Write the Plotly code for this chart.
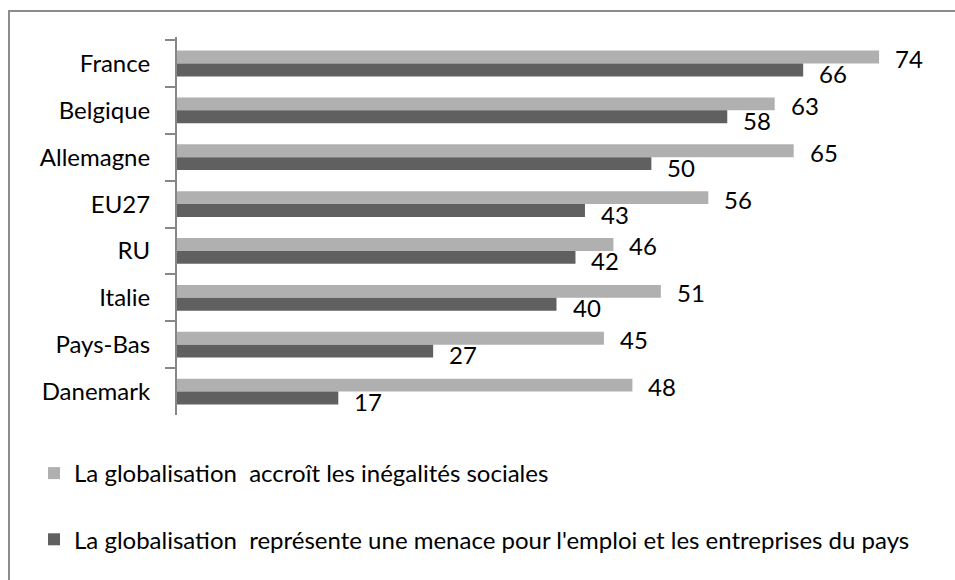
import plotly.graph_objects as go

categories = ["France", "Belgique", "Allemagne", "EU27", "RU", "Italie", "Pays-Bas", "Danemark"]
inegalites = [74, 63, 65, 56, 46, 51, 45, 48]
menace = [66, 58, 50, 43, 42, 40, 27, 17]
series_names = [
    "La globalisation  accroît les inégalités sociales",
    "La globalisation  représente une menace pour l'emploi et les entreprises du pays",
]
colors = ["#b0b0b0", "#606060"]

FONT = "Lato"
FS = 24

W, H = 955, 580
L, R, T, B = 177, 19, 37, 165

fig = go.Figure()
for name, vals, col, grp in zip(series_names, [inegalites, menace], colors, ["g1", "g2"]):
    fig.add_trace(go.Bar(
        y=categories, x=vals, orientation="h", name=name,
        marker=dict(color=col, line=dict(width=0)),
        legendgroup=grp, hoverinfo="x+y",
    ))

annotations = []
for vals, ysh in [(inegalites, 5), (menace, -10)]:
    for c, v in zip(categories, vals):
        annotations.append(dict(
            x=v, y=c, xref="x", yref="y", text=str(v), showarrow=False,
            xanchor="left", yanchor="middle", xshift=14, yshift=ysh,
            font=dict(family=FONT, size=FS, color="#000000"),
        ))

pw = W - L - R
ph = H - T - B
def px_to_paper_x(px):
    return (px - L) / pw
def px_to_paper_y(py):
    return (H - B - py) / ph

fig.update_layout(
    width=W, height=H,
    margin=dict(l=L, r=R, t=T, b=B, autoexpand=False),
    paper_bgcolor="white", plot_bgcolor="white",
    barmode="group", bargap=0.45, bargroupgap=0,
    font=dict(family=FONT, size=FS, color="#000000"),
    xaxis=dict(range=[0, 80], visible=False, showgrid=False, zeroline=False),
    yaxis=dict(
        autorange="reversed", showgrid=False, zeroline=False,
        showline=True, linecolor="#878787", linewidth=2,
        ticks="outside", tickson="boundaries", ticklen=10, tickwidth=2, tickcolor="#878787",
        ticklabelstandoff=20,
        tickfont=dict(family=FONT, size=FS, color="#000000"),
    ),
    showlegend=True,
    legend=dict(
        x=px_to_paper_x(34), y=px_to_paper_y(451), xanchor="left", yanchor="top",
        orientation="v", traceorder="grouped", tracegroupgap=32,
        font=dict(family=FONT, size=FS, color="#000000"),
        bgcolor="rgba(0,0,0,0)",
    ),
    annotations=annotations,
    shapes=[dict(
        type="rect", xref="paper", yref="paper",
        x0=px_to_paper_x(9), x1=px_to_paper_x(990),
        y0=px_to_paper_y(620), y1=px_to_paper_y(11),
        line=dict(color="#8c8c8c", width=2), fillcolor="rgba(0,0,0,0)", layer="below",
    )],
)

fig.write_html(
    "out.html",
    config={"displayModeBar": False},
    post_script="document.body.style.margin='0';document.body.style.padding='0';document.body.style.overflow='hidden';",
)
